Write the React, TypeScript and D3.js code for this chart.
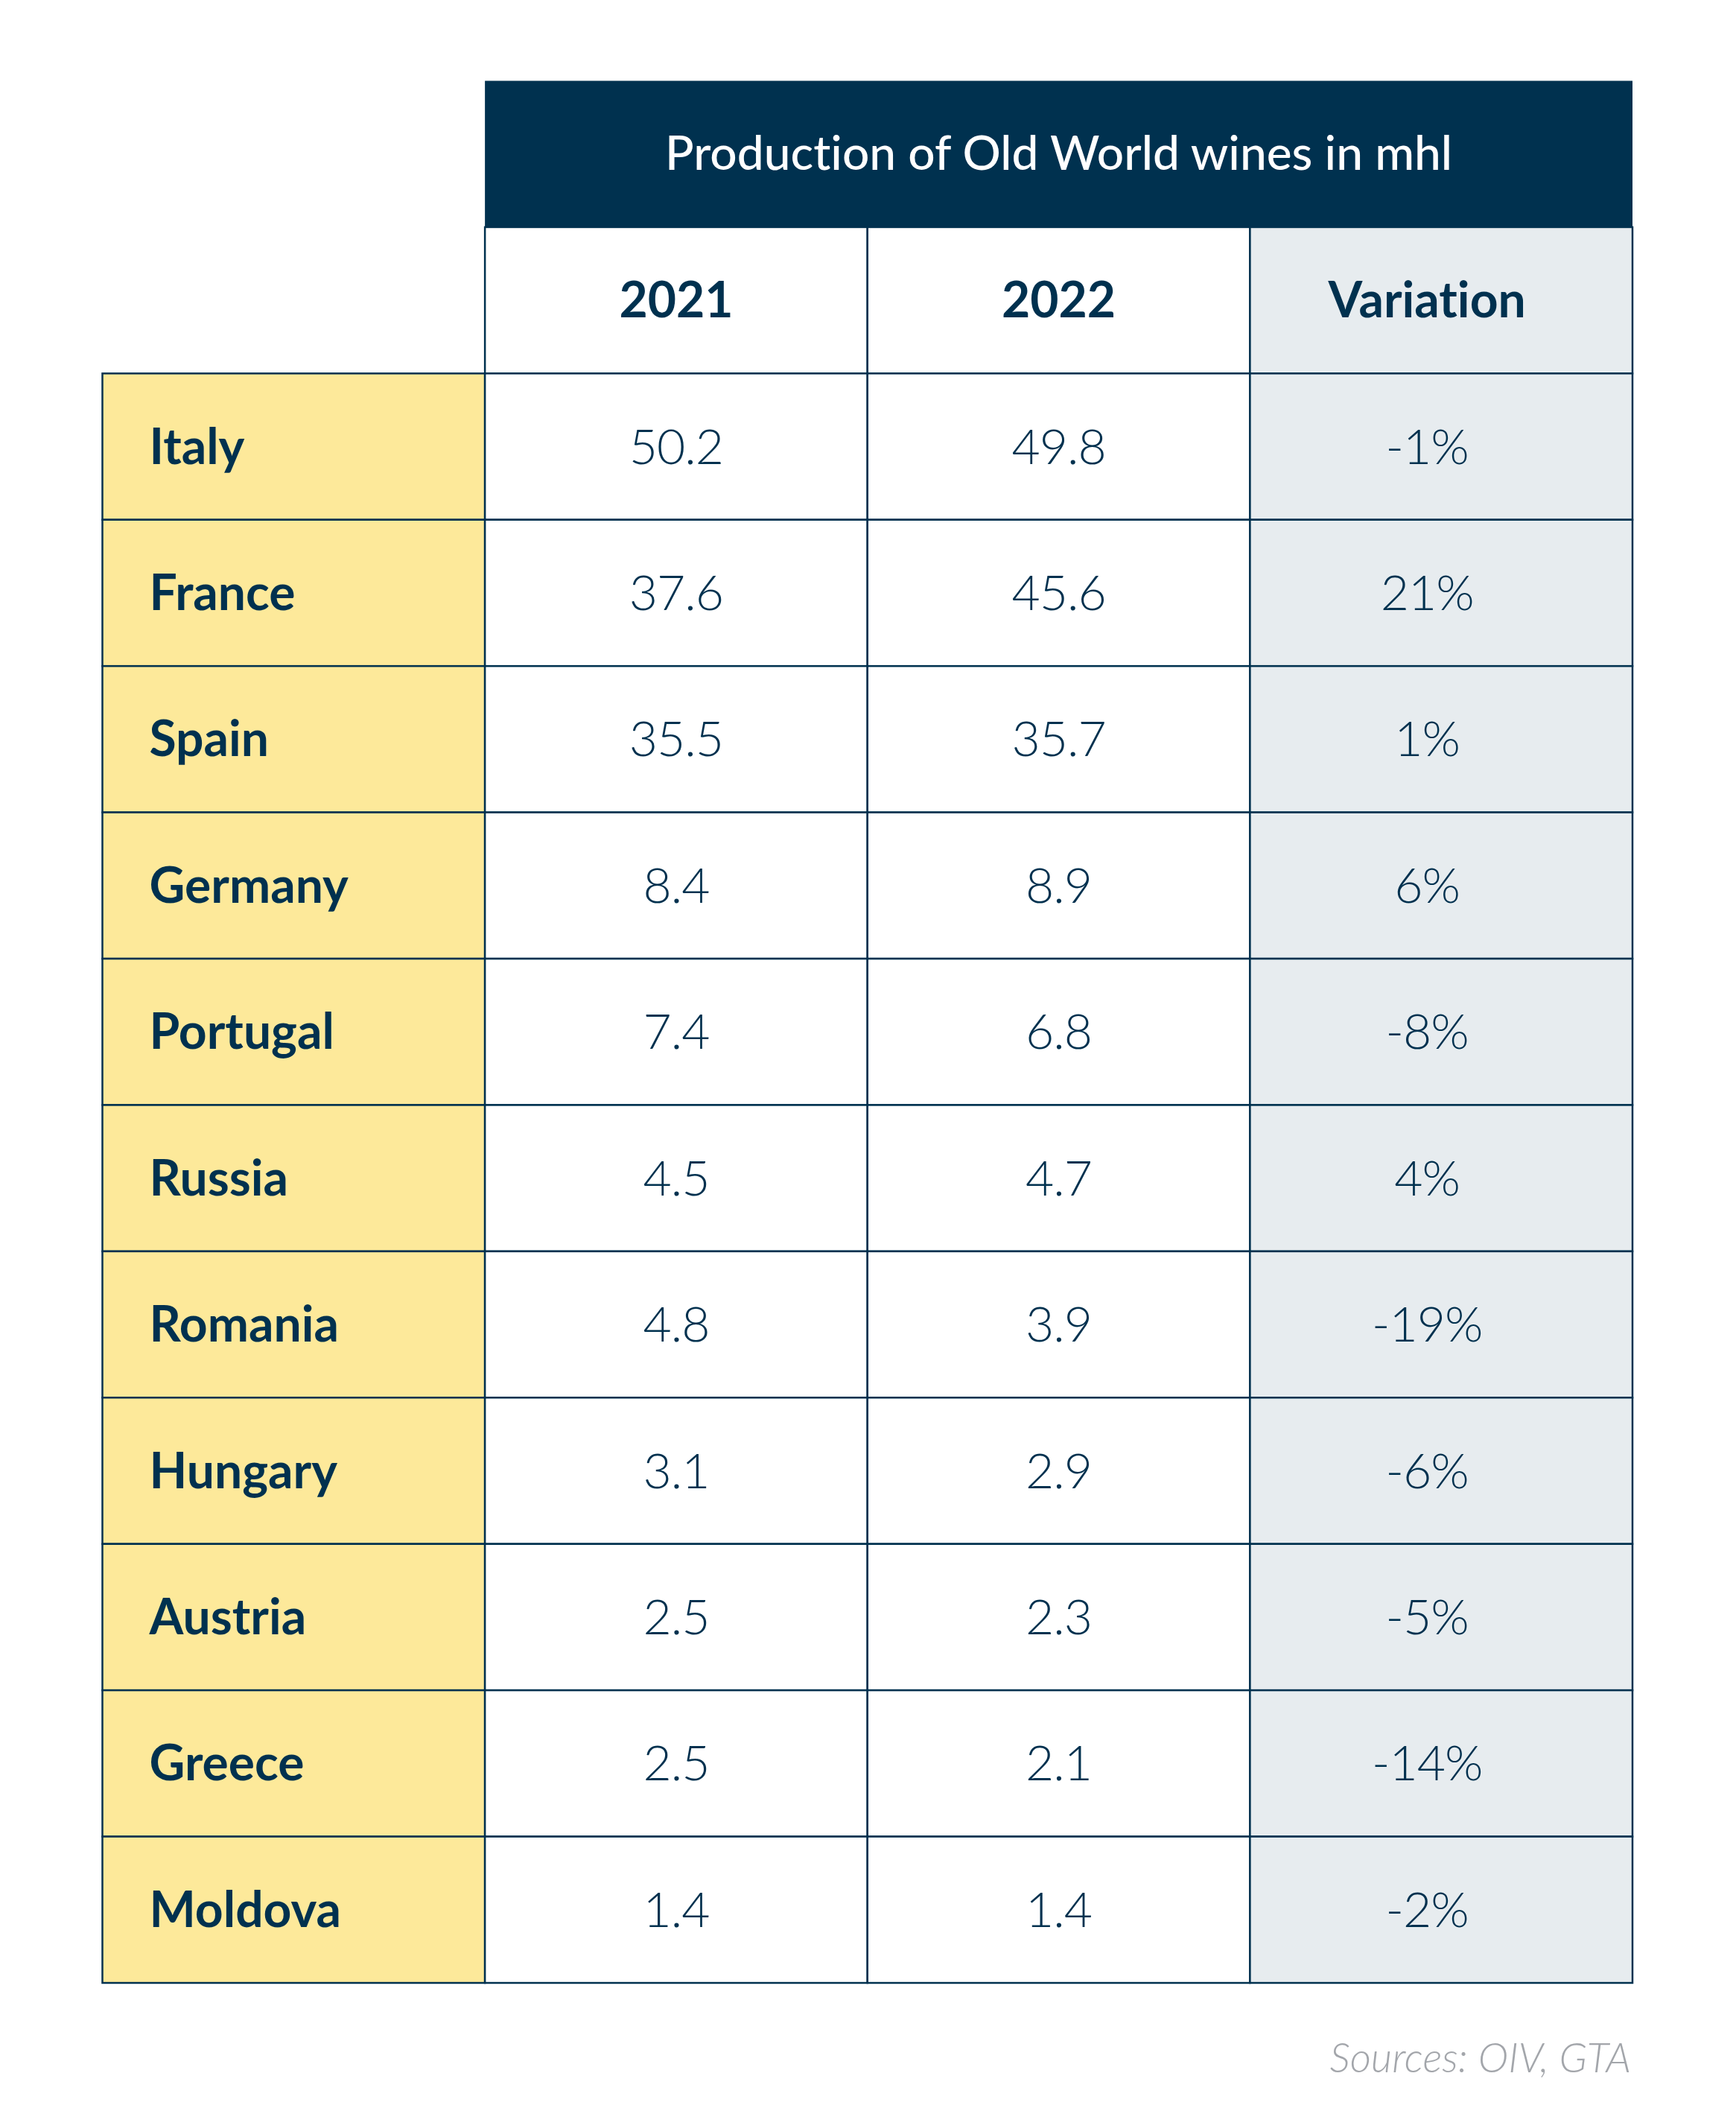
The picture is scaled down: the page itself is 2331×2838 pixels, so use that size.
import React from "react";
import * as d3 from "d3";

const countries = ["Italy", "France", "Spain", "Germany", "Portugal", "Russia", "Romania", "Hungary", "Austria", "Greece", "Moldova"];
const values2021 = ["50.2", "37.6", "35.5", "8.4", "7.4", "4.5", "4.8", "3.1", "2.5", "2.5", "1.4"];
const values2022 = ["49.8", "45.6", "35.7", "8.9", "6.8", "4.7", "3.9", "2.9", "2.3", "2.1", "1.4"];
const variations = ["-1%", "21%", "1%", "6%", "-8%", "4%", "-19%", "-6%", "-5%", "-14%", "-2%"];
const columns = ["country", "2021", "2022", "Variation"];
const title = "Production of Old World wines in mhl";
const source = "Sources: OIV, GTA";

const W = 2331;
const H = 2838;
const NAVY = "#00314f";
const YELLOW = "#fde99a";
const GREY = "#e7ecef";
const FONT = "Lato, 'Open Sans', sans-serif";

export default function App() {
  const x = d3.scaleBand<string>().domain(columns).range([137.5, 2192]).padding(0);
  const rowKeys = ["title", "year", ...countries];
  const y = d3.scaleBand<string>().domain(rowKeys).range([108.5, 2662]).padding(0);
  const bw = x.bandwidth();
  const bh = y.bandwidth();
  const fs = 66;
  const baseOff = 23;
  const textStyle = { fontVariantLigatures: "none" as const };
  const cx = (c: string) => (x(c) as number) + bw / 2 + (c === "Variation" ? -19 : 0);

  const cells: React.ReactNode[] = [];
  columns.slice(1).forEach((c) => {
    cells.push(
      <g key={"yh" + c}>
        <rect x={x(c)} y={y("year")} width={bw} height={bh} fill={c === "Variation" ? GREY : "#ffffff"} stroke={NAVY} strokeWidth={2.5} />
        <text style={textStyle} x={cx(c)} y={(y("year") as number) + bh / 2 + baseOff} textAnchor="middle" fontFamily={FONT} fontWeight={700} fontSize={fs} fill={NAVY}>{c}</text>
      </g>
    );
  });
  countries.forEach((name, i) => {
    const yy = y(name) as number;
    const vals = [values2021[i], values2022[i], variations[i]];
    cells.push(
      <g key={"r" + name}>
        <rect x={x("country")} y={yy} width={bw} height={bh} fill={YELLOW} stroke={NAVY} strokeWidth={2.5} />
        <text style={textStyle} x={(x("country") as number) + 63} y={yy + bh / 2 + baseOff} fontFamily={FONT} fontWeight={700} fontSize={fs} fill={NAVY}>{name}</text>
        {columns.slice(1).map((c, j) => (
          <g key={c}>
            <rect x={x(c)} y={yy} width={bw} height={bh} fill={c === "Variation" ? GREY : "#ffffff"} stroke={NAVY} strokeWidth={2.5} />
            <text style={textStyle} x={cx(c)} y={yy + bh / 2 + baseOff} textAnchor="middle" fontFamily={FONT} fontWeight={300} fontSize={fs} letterSpacing={-1} fill={NAVY}>{vals[j]}</text>
          </g>
        ))}
      </g>
    );
  });

  const tx = x("2021") as number;
  const tw = (x("Variation") as number) + bw - tx;

  return (
    <svg width={W} height={H} style={{ position: "absolute", left: 0, top: 0, background: "#ffffff" }}>
      <rect x={0} y={0} width={W} height={H} fill="#ffffff" />
      <rect x={tx} y={y("title")} width={tw} height={bh} fill={NAVY} />
      <text style={textStyle} x={tx + tw / 2} y={(y("title") as number) + bh / 2 + 21} textAnchor="middle" fontFamily={FONT} fontWeight={500} fontSize={64} fill="#ffffff">{title}</text>
      {cells}
      <text style={textStyle} x={2190} y={2782} textAnchor="end" fontFamily={FONT} fontStyle="italic" fontWeight={300} fontSize={55} fill="#a3a6ab">{source}</text>
    </svg>
  );
}
